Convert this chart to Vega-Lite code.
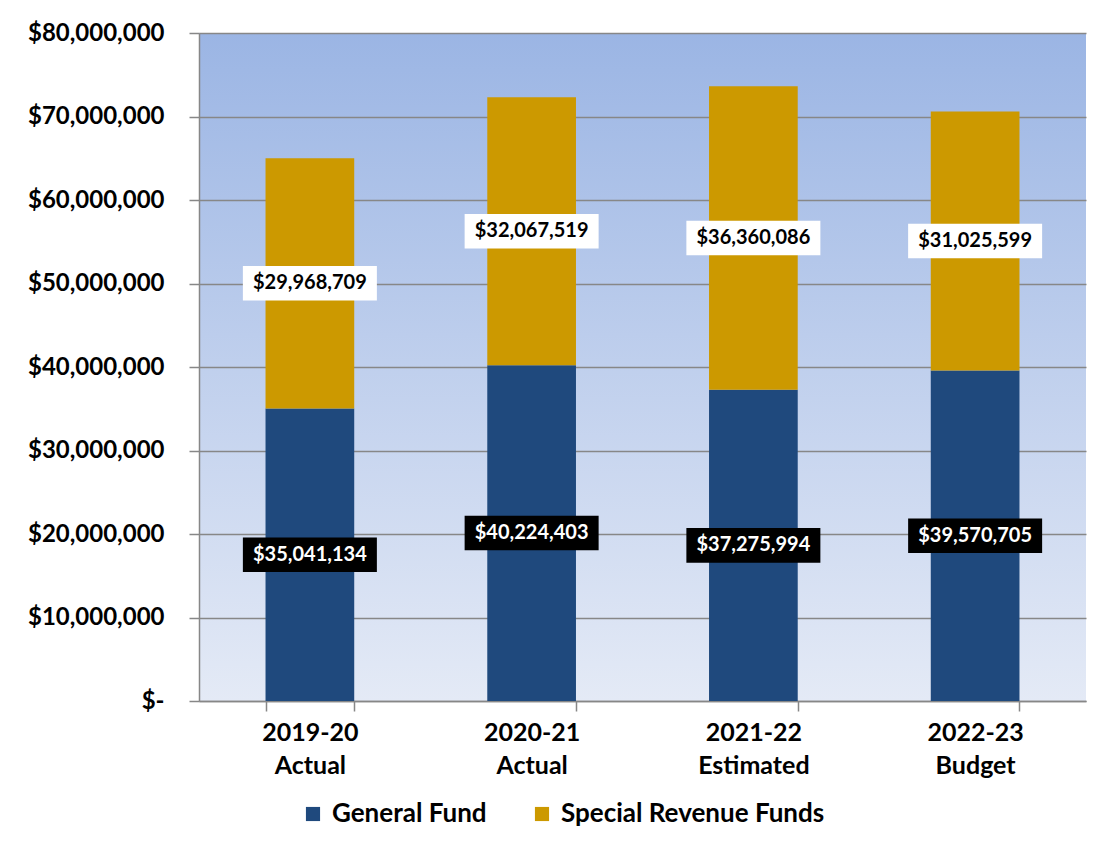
{
  "$schema": "https://vega.github.io/schema/vega-lite/v6.json",
  "width": 887,
  "height": 668,
  "padding": {"left": 27, "top": 21, "right": 14, "bottom": 10},
  "autosize": {"type": "pad"},
  "background": "white",
  "config": {
    "font": "Lato",
    "view": {
      "stroke": null,
      "fill": {"gradient": "linear", "x1": 0, "y1": 0, "x2": 0, "y2": 1,
        "stops": [{"offset": 0, "color": "#9bb5e4"}, {"offset": 1, "color": "#e4eaf6"}]}
    },
    "axisY": {
      "grid": true, "gridColor": "#878787", "gridWidth": 1.5,
      "domainColor": "#878787", "domainWidth": 1.5,
      "tickColor": "#878787", "tickWidth": 1.5, "tickSize": 10,
      "labelFont": "Lato", "labelFontWeight": "bold", "labelFontSize": 24,
      "labelColor": "#000000", "labelPadding": 25
    },
    "axisX": {
      "grid": false, "domainColor": "#878787", "domainWidth": 1.5,
      "tickColor": "#878787", "tickWidth": 1.5, "tickSize": 10,
      "labelFont": "Lato", "labelFontWeight": "bold", "labelFontSize": 25,
      "labelColor": "#000000", "labelPadding": 9, "labelAngle": 0
    },
    "legend": {
      "labelFont": "Lato", "labelFontWeight": "bold", "labelFontSize": 26,
      "labelColor": "#000000", "labelLimit": 500
    }
  },
  "data": {
    "values": [
      {"period": "2019-20 Actual", "fund": "General Fund", "order": 1, "value": 35041134},
      {"period": "2019-20 Actual", "fund": "Special Revenue Funds", "order": 2, "value": 29968709},
      {"period": "2020-21 Actual", "fund": "General Fund", "order": 1, "value": 40224403},
      {"period": "2020-21 Actual", "fund": "Special Revenue Funds", "order": 2, "value": 32067519},
      {"period": "2021-22 Estimated", "fund": "General Fund", "order": 1, "value": 37275994},
      {"period": "2021-22 Estimated", "fund": "Special Revenue Funds", "order": 2, "value": 36360086},
      {"period": "2022-23 Budget", "fund": "General Fund", "order": 1, "value": 39570705},
      {"period": "2022-23 Budget", "fund": "Special Revenue Funds", "order": 2, "value": 31025599}
    ]
  },
  "transform": [
    {"stack": "value", "groupby": ["period"], "sort": [{"field": "order", "order": "ascending"}], "as": ["v0", "v1"]},
    {"calculate": "(datum.v0 + datum.v1) / 2", "as": "mid"}
  ],
  "encoding": {
    "x": {
      "field": "period", "type": "nominal", "sort": null, "title": null,
      "scale": {"paddingInner": 0.6, "paddingOuter": 0.3},
      "axis": {"labelExpr": "split(datum.label, ' ')", "labelLineHeight": 33, "tickBand": "extent"}
    }
  },
  "layer": [
    {
      "mark": {"type": "bar"},
      "encoding": {
        "y": {
          "field": "v0", "type": "quantitative", "title": null,
          "scale": {"domain": [0, 80000000], "nice": false},
          "axis": {
            "values": [0, 10000000, 20000000, 30000000, 40000000, 50000000, 60000000, 70000000, 80000000],
            "labelExpr": "datum.value == 0 ? '$-\u00a0\u00a0\u00a0' : '$' + format(datum.value, ',')"
          }
        },
        "y2": {"field": "v1"},
        "color": {
          "field": "fund", "type": "nominal",
          "scale": {"domain": ["General Fund", "Special Revenue Funds"], "range": ["#1f497d", "#cc9900"]},
          "legend": {
            "orient": "none", "legendX": 101, "legendY": 768,
            "direction": "horizontal", "title": null,
            "symbolType": "square", "symbolSize": 200, "symbolStrokeWidth": 0,
            "columnPadding": 42, "labelOffset": 6
          }
        }
      }
    },
    {
      "mark": {"type": "point", "shape": "M-1,-0.2575 H1 V0.2575 H-1 Z", "size": 17956, "filled": true, "opacity": 1, "strokeWidth": 0},
      "encoding": {
        "y": {"field": "mid", "type": "quantitative", "title": null},
        "fill": {"condition": {"test": "datum.fund == 'General Fund'", "value": "#000000"}, "value": "#ffffff"}
      }
    },
    {
      "mark": {"type": "text", "font": "Lato", "fontWeight": "bold", "fontSize": 20, "baseline": "middle", "align": "center"},
      "encoding": {
        "y": {"field": "mid", "type": "quantitative", "title": null},
        "text": {"field": "value", "type": "quantitative", "format": "$,d"},
        "color": {"condition": {"test": "datum.fund == 'General Fund'", "value": "#ffffff"}, "value": "#000000"}
      }
    }
  ]
}
